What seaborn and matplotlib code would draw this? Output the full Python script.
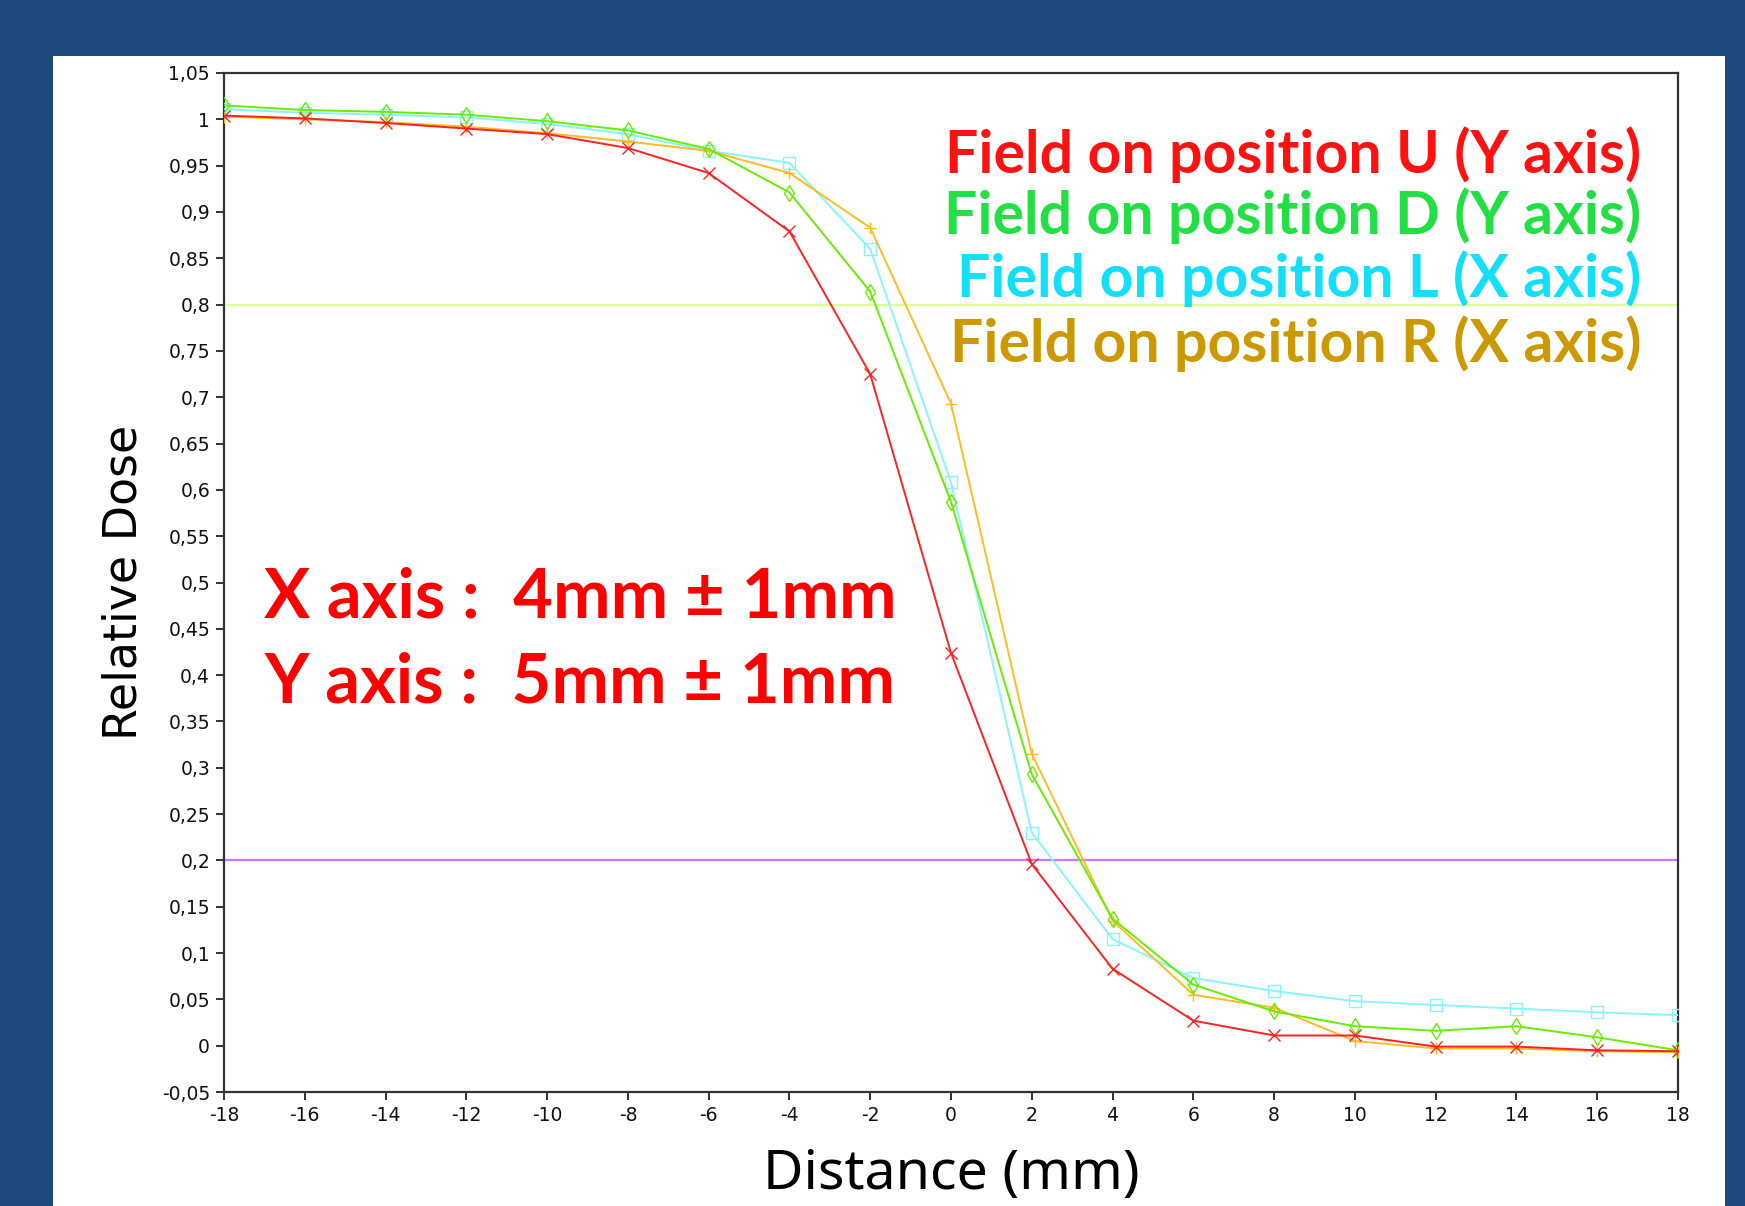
import matplotlib
matplotlib.use("Agg")
import matplotlib.pyplot as plt
from matplotlib.patches import Rectangle
from matplotlib.ticker import FuncFormatter, MultipleLocator
import seaborn as sns
import numpy as np
import pandas as pd

# ---------------- data ----------------
distance_mm = [-18, -16, -14, -12, -10, -8, -6, -4, -2, 0, 2, 4, 6, 8, 10, 12, 14, 16, 18]

dose_U = [1.004, 1.001, 0.996, 0.990, 0.984, 0.969, 0.942, 0.879, 0.725, 0.424, 0.196,
          0.083, 0.027, 0.011, 0.011, -0.001, -0.001, -0.005, -0.006]
dose_D = [1.015, 1.010, 1.008, 1.005, 0.998, 0.988, 0.968, 0.921, 0.814, 0.587, 0.293,
          0.137, 0.066, 0.037, 0.021, 0.016, 0.021, 0.009, -0.005]
dose_L = [1.011, 1.007, 1.005, 1.002, 0.995, 0.984, 0.966, 0.953, 0.860, 0.608, 0.230,
          0.115, 0.073, 0.059, 0.048, 0.044, 0.040, 0.036, 0.033]
dose_R = [1.003, 1.000, 0.997, 0.992, 0.985, 0.976, 0.966, 0.942, 0.883, 0.693, 0.315,
          0.135, 0.055, 0.041, 0.005, -0.003, -0.003, -0.006, -0.007]

series_names = ["Field on position U (Y axis)", "Field on position D (Y axis)",
                "Field on position L (X axis)", "Field on position R (X axis)"]
ref_levels = [0.8, 0.2]
annot_lines = ["X axis :  4mm \u00b1 1mm", "Y axis :  5mm \u00b1 1mm"]

# ---------------- style ----------------
W, H = 1745, 1206
sns.set_style("ticks")
plt.rcParams["font.family"] = ["DejaVu Sans"]

fig = plt.figure(figsize=(W / 100, H / 100), dpi=100)
fig.patch.set_facecolor("#1F497C")
# white slide panel
fig.patches.append(Rectangle((53 / W, 0), (1725 - 53) / W, 1 - 56 / H,
                             transform=fig.transFigure, facecolor="white",
                             edgecolor="none", zorder=-5))

left, right, top, bottom = 224, 1678, 73, 1092
ax = fig.add_axes([left / W, 1 - bottom / H, (right - left) / W, (bottom - top) / H])
ax.set_zorder(2)
ax.set_facecolor("white")

line_colors = {"U": "#FF2222", "D": "#66EE00", "L": "#88F4FF", "R": "#FFBB22"}
markers = {"U": "x", "D": "d", "L": "s", "R": "+"}
data = {"U": dose_U, "D": dose_D, "L": dose_L, "R": dose_R}

# reference lines
ax.axhline(ref_levels[0], color="#DDFF99", lw=1.6, zorder=1)
ax.axhline(ref_levels[1], color="#CC77FF", lw=1.6, zorder=1)

for key in ["L", "R", "D", "U"]:
    df = pd.DataFrame({"Distance": distance_mm, "Dose": data[key]})
    sns.lineplot(data=df, x="Distance", y="Dose", ax=ax, color=line_colors[key],
                 marker=markers[key], markersize=8, markerfacecolor="none",
                 markeredgecolor=line_colors[key], markeredgewidth=1.0,
                 lw=1.4, zorder=3)

ax.set_xlim(-18, 18)
ax.set_ylim(-0.05, 1.05)
ax.xaxis.set_major_locator(MultipleLocator(2))
ax.yaxis.set_major_locator(MultipleLocator(0.05))


def comma_fmt(v, pos):
    v = round(v, 2)
    if abs(v) < 1e-9:
        return "0"
    return ("%g" % v).replace(".", ",")


ax.yaxis.set_major_formatter(FuncFormatter(comma_fmt))
ax.xaxis.set_major_formatter(FuncFormatter(lambda v, p: "%d" % round(v)))
ax.tick_params(axis="both", direction="out", length=6, width=1.3, color="#222222",
               labelsize=13.5, labelcolor="#111111", pad=4)
for s in ax.spines.values():
    s.set_color("#333333")
    s.set_linewidth(1.6)
    s.set_visible(True)

ax.set_xlabel("Distance (mm)", fontsize=40, family=["Noto Sans", "DejaVu Sans"],
              color="black", va="center")
ax.xaxis.set_label_coords(0.5, -0.081)
ax.set_ylabel("Relative Dose", fontsize=33, color="black", va="center")
ax.yaxis.set_label_coords(-0.069, 0.5)

# legend-like coloured texts
text_colors = ["#FF1111", "#22E044", "#11E0F8", "#CC9900"]
text_y = [155, 216, 279, 344]
for name, c, y in zip(series_names, text_colors, text_y):
    fig.text(1641 / W, 1 - y / H, name, color=c, fontsize=42.5, fontweight="bold",
             family=["Lato", "DejaVu Sans"], ha="right", va="center", zorder=5)

annot_y = [598, 683]
for t, y in zip(annot_lines, annot_y):
    fig.text(264 / W, 1 - y / H, t, color="#FF0000", fontsize=49.5, fontweight="bold",
             family=["Lato", "DejaVu Sans"], ha="left", va="center", zorder=5)

fig.savefig("out.png", dpi=100, facecolor=fig.get_facecolor())
